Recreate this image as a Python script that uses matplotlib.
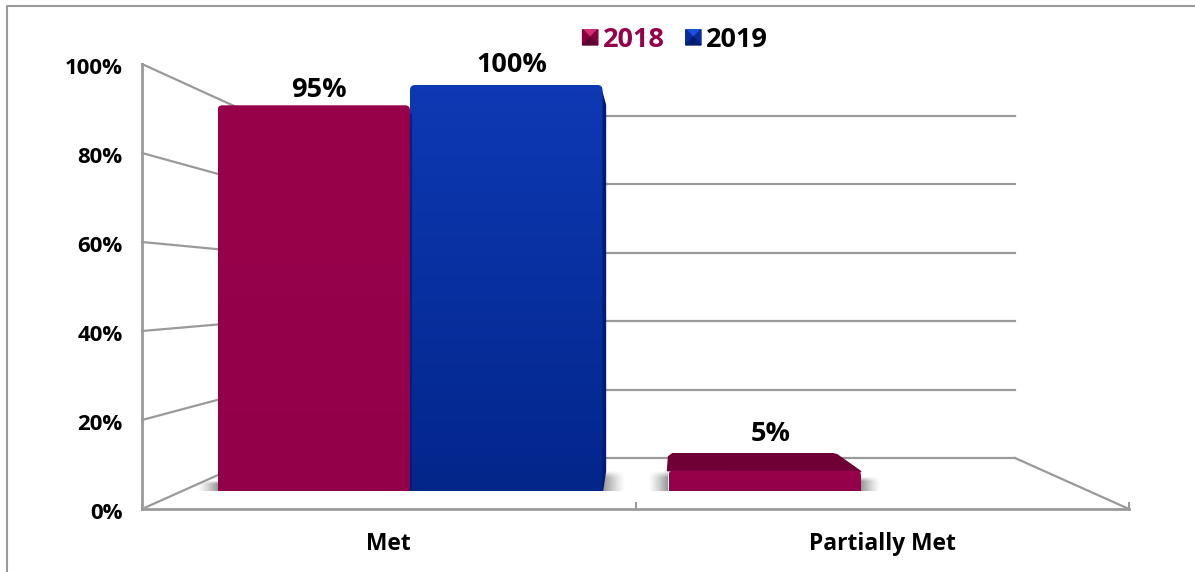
import matplotlib
matplotlib.use('Agg')
import numpy as np
import matplotlib.pyplot as plt
from matplotlib.colors import LinearSegmentedColormap
from matplotlib.legend_handler import HandlerBase
from matplotlib.patches import FancyBboxPatch, Polygon, Patch
from matplotlib.transforms import ScaledTranslation

categories = ['Met', 'Partially Met']
years = ['2018', '2019']
values_2018 = [95, 5]
values_2019 = [100, 0]
yticks = [0, 20, 40, 60, 80, 100]

W, H = 1195, 572
GREY = '#9a9a9a'
MAROON = '#95004a'
plt.rcParams['font.family'] = ['Open Sans', 'DejaVu Sans']
plt.rcParams['font.weight'] = 'bold'

fig = plt.figure(figsize=(W / 100, H / 100), dpi=100)


def axes_px(left, top, right, bottom, **kw):
    return fig.add_axes([left / W, 1 - bottom / H, (right - left) / W, (bottom - top) / H], **kw)


# overlay in pixel coordinates for the fake 3d parts
pix = fig.add_axes([0, 0, 1, 1], zorder=0)
pix.set_xlim(0, W)
pix.set_ylim(H, 0)
pix.axis('off')

# front plane, carries the ticks
ax = axes_px(142, 64, 1129, 509, zorder=1)
ax.patch.set_alpha(0)
ax.set_xlim(-0.5, 1.5)
ax.set_ylim(0, 100)
ax.spines['top'].set_visible(False)
ax.spines['right'].set_visible(False)
for s in ['left', 'bottom']:
    ax.spines[s].set_color(GREY)
    ax.spines[s].set_linewidth(2)
ax.set_yticks(yticks)
ax.set_yticklabels([str(v) + '%' for v in yticks], fontsize=16, color='black')
ax.set_xticks([0, 1])
ax.set_xticklabels(categories, fontsize=16.4, color='black')
ax.set_xticks([-0.5, 0.5, 1.5], minor=True)
ax.tick_params(axis='y', length=0, pad=14)
ax.tick_params(axis='x', which='major', length=0, pad=16.3)
ax.tick_params(axis='x', which='minor', direction='in', length=5, width=1.4, color=GREY)
for lab in ax.get_yticklabels():
    lab.set_transform(lab.get_transform() + ScaledTranslation(0, -1.3 / 72, fig.dpi_scale_trans))

# walls and floor
back_left, back_right = 256, 1015
back_top, back_floor = 116, 458
for v in yticks:
    yf = 509 - 445 * v / 100
    yb = back_floor - (back_floor - back_top) * v / 100
    pix.plot([142, back_left], [yf, yb], color=GREY, lw=1.6, solid_capstyle='round')
    pix.plot([back_left, back_right], [yb, yb], color=GREY, lw=1.6)
pix.plot([back_right, 1129], [back_floor, 509], color=GREY, lw=1.6)

# outer frame
pix.plot([7.5, 7.5, W], [H, 5.5, 5.5], color=GREY, lw=1.5)

# bars
bar_ax = axes_px(184.5, 85, 1086.5, 491, zorder=2)
bar_ax.patch.set_alpha(0)
bar_ax.axis('off')
bar_ax.set_xlim(-0.5, 1.5)
bar_ax.set_ylim(0, 100)
x = np.arange(len(categories))
width = 0.4268
b18 = bar_ax.bar(x - width / 2, values_2018, width, color=MAROON, label=years[0])
b19 = bar_ax.bar(x + width / 2, values_2019, width, color='#0a33a8', label=years[1])


def to_px(xv, yv):
    dx, dy = bar_ax.transData.transform((xv, yv))
    return dx, H - dy


def shadow(x0, x1, y0, y1, rev=False):
    g = np.linspace(0.7, 0, 32) ** 1.3
    if rev:
        g = g[::-1]
    fade = np.clip(np.linspace(0, 1, 12) * 3, 0, 1)
    rgba = np.zeros((12, 32, 4))
    rgba[..., :3] = 0.35
    rgba[..., 3] = np.outer(fade, g)
    pix.imshow(rgba, extent=(x0, x1, y1, y0), aspect='auto', interpolation='bilinear', zorder=3)


grads = [(('#98024b', '#93004a'), '#6e0035'), (('#0d39b4', '#03268b'), '#001c74')]
for bars, val, (cols, dark) in zip((b18, b19), (values_2018, values_2019), grads):
    for rect, v in zip(bars, val):
        if v == 0:
            continue
        rect.set_visible(False)
        lx, by = to_px(rect.get_x(), 0)
        rx, ty = to_px(rect.get_x() + rect.get_width(), v)
        depth = 17 * (100 - v) / 95
        # side strip of the tall bar on the right edge
        if dark == '#001c74':
            bar_ax.add_patch(Polygon([(rx - 2, ty + 2), (rx + 3, ty + 20), (rx + 3, by - 20), (rx, by)],
                                     closed=True, color=dark, transform=pix.transData, clip_on=False))
        # top face, only seen on low bars
        if depth > 3:
            bar_ax.add_patch(Polygon([(lx - 1, ty), (lx, ty - depth + 3), (lx + 4, ty - depth), (rx - 28, ty - depth),
                                      (rx - 24, ty - depth + 1), (rx, ty + 1)],
                                     closed=True, color=dark, transform=pix.transData, clip_on=False))
        box = FancyBboxPatch((lx, ty), rx - lx, by - ty + 12, boxstyle='round,pad=0,rounding_size=5',
                             transform=pix.transData, facecolor='none', edgecolor='none')
        bar_ax.add_patch(box)
        cm = LinearSegmentedColormap.from_list('g', cols)
        img = bar_ax.imshow(np.linspace(0, 1, 64).reshape(-1, 1), cmap=cm, aspect='auto', origin='upper',
                            extent=(rect.get_x(), rect.get_x() + rect.get_width(), 0, v), zorder=2)
        img.set_clip_path(box)
        if dark == '#001c74':
            bar_ax.plot([lx + 1, lx + 1], [ty + 30, by - 1], color=dark, lw=1.5, alpha=0.8,
                        transform=pix.transData, clip_on=False, zorder=3)
bar_ax.set_xlim(-0.5, 1.5)
bar_ax.set_ylim(0, 100)

# floor shadows next to the bars
shadow(197, 218, 480, 491, rev=True)
shadow(603, 626, 470, 491)
shadow(648, 668, 470, 491, rev=True)
shadow(861, 881, 476, 491)
pix.set_xlim(0, W)
pix.set_ylim(H, 0)

# data labels, a little right of the bar centre as in the source
for bars, val in ((b18, values_2018), (b19, values_2019)):
    for rect, v in zip(bars, val):
        if v == 0:
            continue
        if v == 100:
            up = 14.3
        elif v < 10:
            up = 26.6
        else:
            up = 11
        bar_ax.annotate(str(v) + '%', (rect.get_x() + rect.get_width() / 2, v),
                        xytext=(4.0, up), textcoords='offset points',
                        ha='center', va='center', fontsize=19.5, color='black', annotation_clip=False)


class PyramidHandler(HandlerBase):
    def create_artists(self, legend, orig, xd, yd, w, h, fontsize, trans):
        s = 11
        x0, y0 = w - s, (h - s) / 2
        c = (x0 + s / 2, y0 + s / 2)
        a, b, d, e = (x0, y0), (x0 + s, y0), (x0 + s, y0 + s), (x0, y0 + s)
        top, mid, low = orig.shade
        return [Polygon([e, d, c], color=top, transform=trans),
                Polygon([a, e, c], color=mid, transform=trans),
                Polygon([b, d, c], color=mid, transform=trans),
                Polygon([a, b, c], color=low, transform=trans)]


h18 = Patch(label=years[0])
h18.shade = ('#d0306f', '#86003f', '#5e0030')
h19 = Patch(label=years[1])
h19.shade = ('#1f4fe0', '#0a2c96', '#001c74')
leg = bar_ax.legend(handles=[h18, h19], handler_map={Patch: PyramidHandler()}, loc='center',
                    bbox_to_anchor=(675 / W, 1 - 39.8 / H), bbox_transform=fig.transFigure, frameon=False, ncol=2,
                    fontsize=19.5, handlelength=0.6, handletextpad=0.2, columnspacing=0.72,
                    borderpad=0, borderaxespad=0)
leg.get_texts()[0].set_color(MAROON)
leg.get_texts()[1].set_color('black')

fig.savefig('out.png', dpi=100)
